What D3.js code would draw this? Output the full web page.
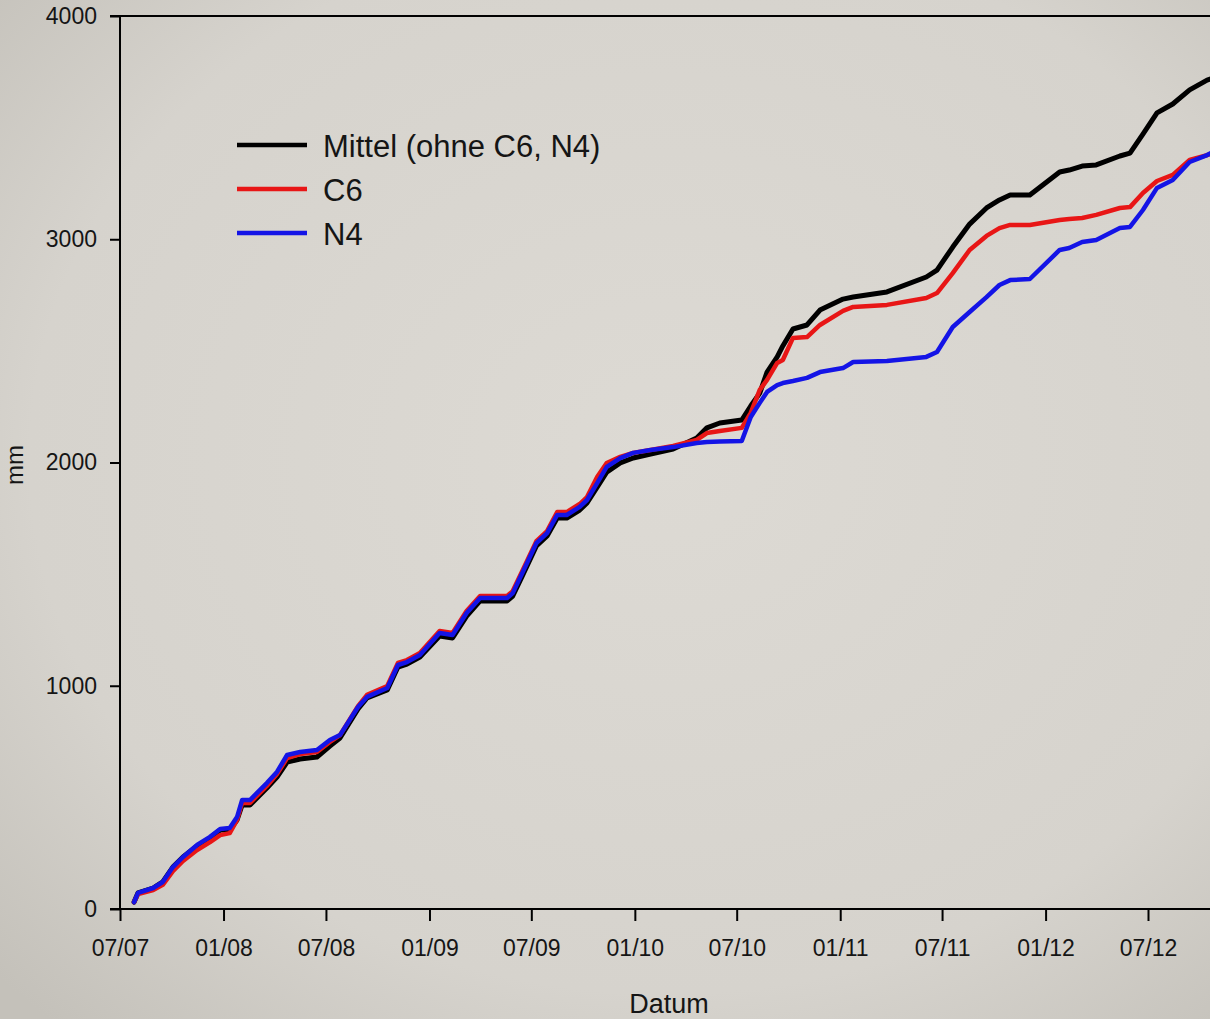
<!DOCTYPE html>
<html>
<head>
<meta charset="utf-8">
<script src="https://cdn.jsdelivr.net/npm/d3@7"></script>
<style>
  html, body { margin: 0; padding: 0; overflow: hidden; }
  body { width: 1210px; height: 1019px; }
  svg { display: block; font-family: "Liberation Sans", Arial, sans-serif; }
</style>
</head>
<body>
<svg id="chart" width="1210" height="1019"></svg>
<script>
// ---- data ----
const dates = [
  "2007-07-26","2007-08-02","2007-08-29","2007-09-15","2007-10-03","2007-10-21","2007-11-15","2007-12-08","2007-12-26",
  "2008-01-12","2008-01-25","2008-02-03","2008-02-17","2008-03-18","2008-04-05","2008-04-23","2008-05-16","2008-06-15",
  "2008-07-08","2008-07-26","2008-08-27","2008-09-12","2008-10-18","2008-11-06","2008-11-22","2008-12-15",
  "2009-01-19","2009-02-11","2009-03-08","2009-04-01","2009-05-19","2009-05-29","2009-06-15","2009-07-10","2009-07-29",
  "2009-08-16","2009-09-02","2009-09-25","2009-10-08","2009-10-26","2009-11-12","2009-12-06","2009-12-29",
  "2010-01-29","2010-03-10","2010-04-21","2010-05-09","2010-06-01","2010-07-10","2010-07-26","2010-08-11","2010-08-24",
  "2010-09-11","2010-09-21","2010-10-09","2010-11-03","2010-11-26",
  "2011-01-06","2011-01-24","2011-03-25","2011-06-03","2011-06-22","2011-07-20","2011-08-19","2011-09-18","2011-10-11",
  "2011-10-30","2011-12-04",
  "2012-01-26","2012-02-12","2012-03-06","2012-03-31","2012-05-12","2012-05-30","2012-06-22","2012-07-17","2012-08-14",
  "2012-09-13","2012-10-14","2012-10-25"
];
const mittel = [
  31,72,94,121,188,233,282,318,354,
  354,399,466,466,542,591,658,672,681,
  730,766,896,945,981,1084,1097,1129,
  1223,1214,1312,1380,1380,1402,1492,1626,1671,
  1751,1751,1787,1819,1890,1957,1998,2020,
  2038,2060,2110,2155,2177,2190,2253,2311,2405,
  2473,2522,2598,2616,2683,
  2732,2741,2764,2831,2862,2965,3068,3140,3176,
  3198,3198,
  3301,3310,3328,3333,3373,3386,3471,3566,3606,
  3669,3713,3722
];
const c6 = [
  31,67,85,108,170,215,264,300,331,
  340,399,475,475,551,605,676,694,703,
  748,779,909,959,999,1102,1115,1147,
  1245,1236,1335,1402,1402,1424,1514,1648,1693,
  1778,1778,1814,1845,1935,1998,2025,2043,
  2056,2074,2101,2132,2141,2155,2222,2325,2370,
  2446,2459,2558,2562,2616,
  2679,2697,2706,2737,2759,2848,2952,3015,3050,
  3064,3064,
  3086,3091,3095,3109,3140,3144,3207,3261,3288,
  3355,3377,3386
];
const n4 = [
  31,72,94,121,188,233,287,323,358,
  363,412,488,488,564,614,690,703,712,
  757,779,905,950,990,1093,1106,1138,
  1236,1227,1326,1393,1393,1415,1505,1639,1684,
  1765,1765,1801,1832,1908,1980,2020,2043,
  2056,2069,2087,2092,2094,2096,2204,2267,2316,
  2347,2356,2365,2379,2405,
  2423,2450,2455,2473,2495,2607,2674,2741,2795,
  2817,2822,
  2952,2961,2988,2997,3050,3055,3131,3230,3265,
  3346,3377,3391
];
const seriesNames = ["Mittel (ohne C6, N4)", "C6", "N4"];
const seriesColors = ["#000000", "#e81616", "#1414e6"];
const yTicks = [0, 1000, 2000, 3000, 4000];
const xTickLabels = ["07/07","01/08","07/08","01/09","07/09","01/10","07/10","01/11","07/11","01/12","07/12"];

// ---- drawing ----
const parse = d3.timeParse("%Y-%m-%d");
const tickParse = d3.timeParse("%m/%y");
const svg = d3.select("#chart");
const W = 1210, H = 1019;

// background with soft vignette
const defs = svg.append("defs");
const grad = defs.append("radialGradient").attr("id", "bg")
  .attr("cx", "55%").attr("cy", "45%").attr("r", "75%");
grad.append("stop").attr("offset", "0%").attr("stop-color", "#dddad4");
grad.append("stop").attr("offset", "70%").attr("stop-color", "#d6d3cd");
grad.append("stop").attr("offset", "100%").attr("stop-color", "#c4c1ba");
svg.append("rect").attr("width", W).attr("height", H).attr("fill", "url(#bg)");

const x = d3.scaleTime()
  .domain([new Date(2007, 6, 1), new Date(2012, 6, 1)])
  .range([120, 1148]);
const y = d3.scaleLinear().domain([0, 4000]).range([909, 16]);

// frame lines
const g = svg.append("g");
g.append("line").attr("x1", 120).attr("x2", 120).attr("y1", 16).attr("y2", 909)
  .attr("stroke", "#000").attr("stroke-width", 2);
g.append("line").attr("x1", 110).attr("x2", W + 5).attr("y1", 909).attr("y2", 909)
  .attr("stroke", "#000").attr("stroke-width", 2);
g.append("line").attr("x1", 110).attr("x2", W + 5).attr("y1", 16).attr("y2", 16)
  .attr("stroke", "#000").attr("stroke-width", 2);

// y axis
const yAxis = d3.axisLeft(y).tickValues(yTicks).tickFormat(d3.format("d"))
  .tickSize(10).tickPadding(13).tickSizeOuter(0);
const yg = svg.append("g").attr("transform", "translate(120,0)").call(yAxis);
yg.select(".domain").remove();
yg.selectAll(".tick line").attr("stroke", "#000").attr("stroke-width", 2);
yg.selectAll(".tick text").attr("font-size", 23).attr("fill", "#151515")
  .attr("font-family", "Liberation Sans, Arial, sans-serif");

// x axis
const xAxis = d3.axisBottom(x).tickValues(xTickLabels.map(tickParse))
  .tickFormat(d3.timeFormat("%m/%y")).tickSize(12).tickPadding(19).tickSizeOuter(0);
const xg = svg.append("g").attr("transform", "translate(0,909)").call(xAxis);
xg.select(".domain").remove();
xg.selectAll(".tick line").attr("stroke", "#000").attr("stroke-width", 2);
xg.selectAll(".tick text").attr("font-size", 23).attr("fill", "#151515")
  .attr("font-family", "Liberation Sans, Arial, sans-serif");

// axis titles
svg.append("text").attr("x", 669).attr("y", 1013).attr("text-anchor", "middle")
  .attr("font-size", 27).attr("fill", "#151515").text("Datum");
svg.append("text").attr("transform", "translate(23,465) rotate(-90)").attr("text-anchor", "middle")
  .attr("font-size", 24).attr("fill", "#151515").text("mm");

// series
const seriesValues = [mittel, c6, n4];
const line = d3.line().x(d => x(d.date)).y(d => y(d.v)).curve(d3.curveLinear);
seriesValues.forEach((vals, i) => {
  const pts = dates.map((d, k) => ({ date: parse(d), v: vals[k] }));
  svg.append("path").datum(pts)
    .attr("d", line)
    .attr("fill", "none")
    .attr("stroke", seriesColors[i])
    .attr("stroke-width", i === 0 ? 5 : 4.5)
    .attr("stroke-linejoin", "round")
    .attr("stroke-linecap", "round");
});

// legend
const lg = svg.append("g");
seriesNames.forEach((name, i) => {
  const yy = 145 + i * 44;
  lg.append("line").attr("x1", 237).attr("x2", 307).attr("y1", yy).attr("y2", yy)
    .attr("stroke", seriesColors[i]).attr("stroke-width", 4.5);
  lg.append("text").attr("x", 323).attr("y", yy + 12).attr("font-size", 31)
    .attr("fill", "#151515").text(name);
});
</script>
</body>
</html>
